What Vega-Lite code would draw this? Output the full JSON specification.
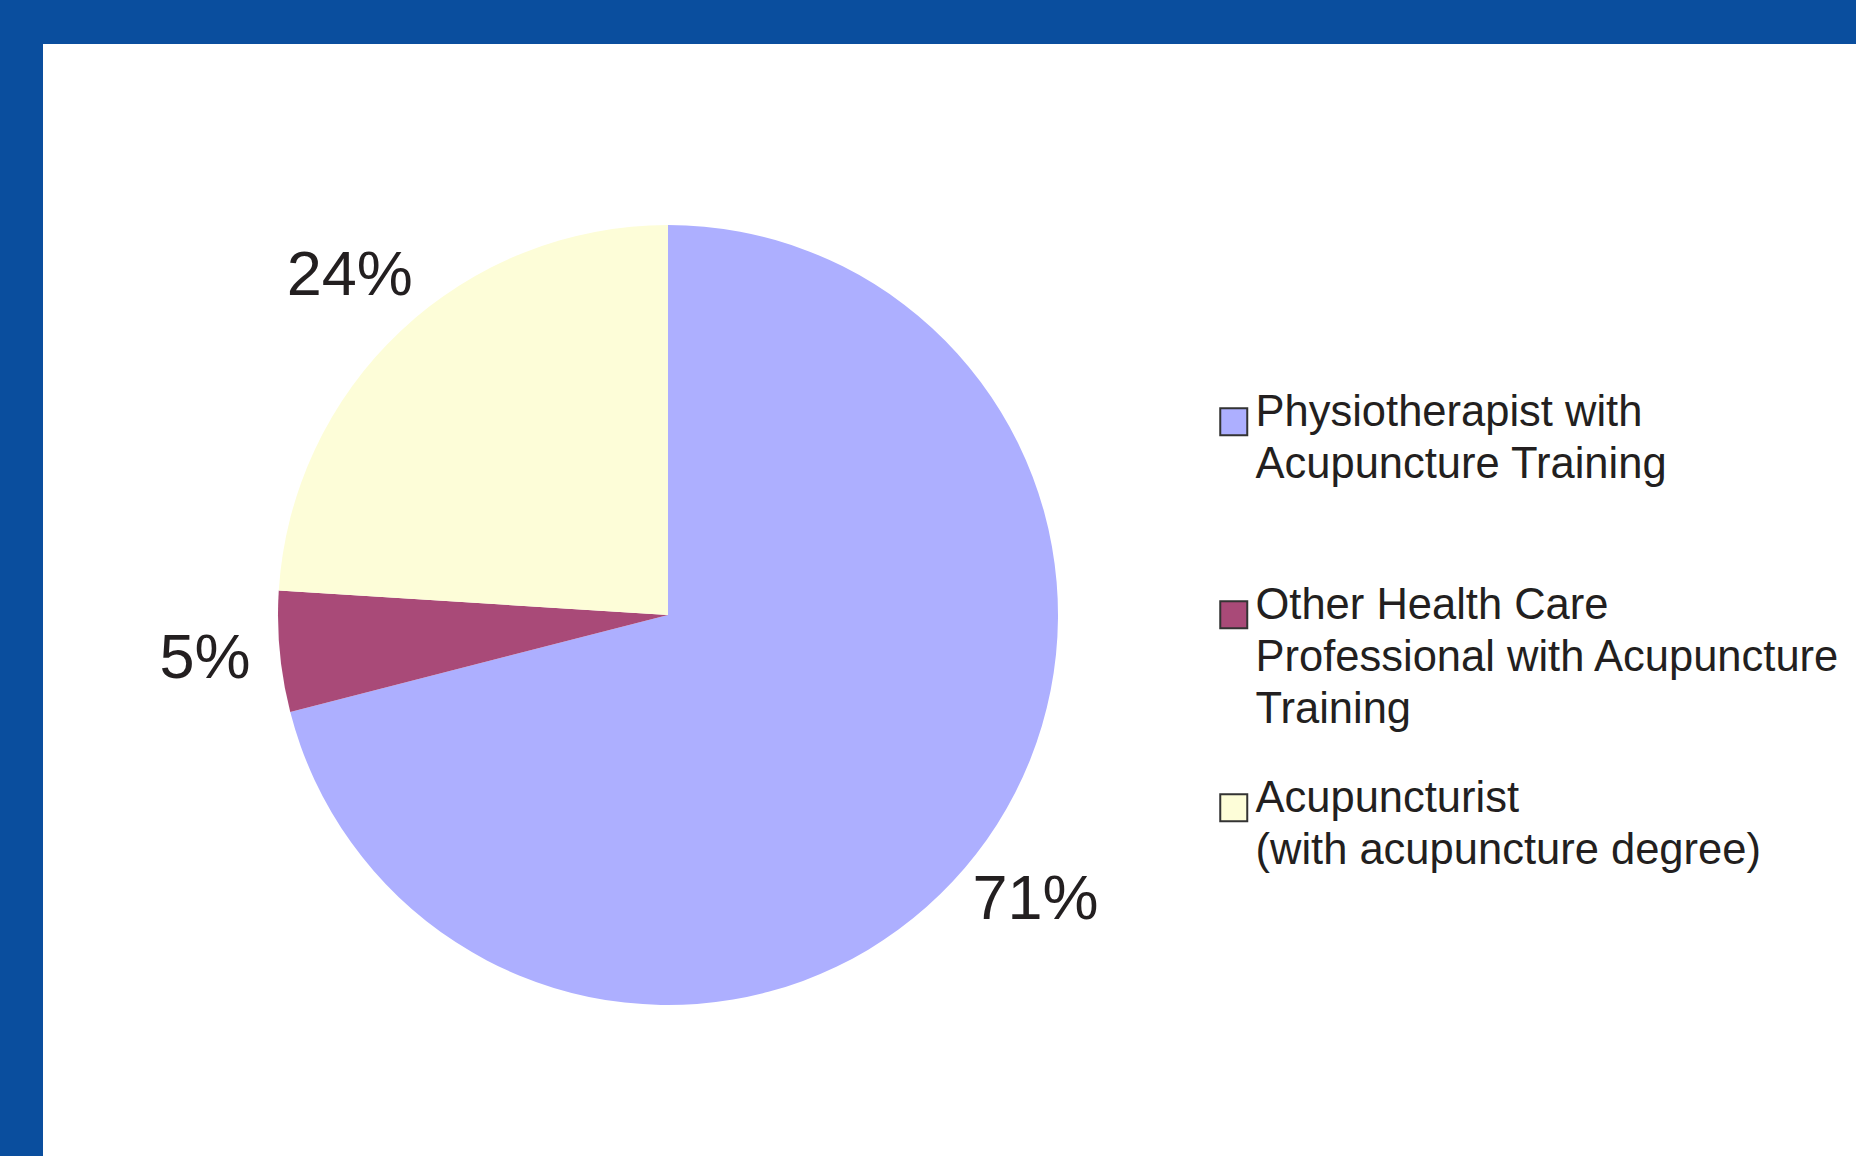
{
  "$schema": "https://vega.github.io/schema/vega-lite/v6.json",
  "background": "#0a4e9e",
  "padding": {"left": 43, "top": 44, "right": 0, "bottom": -30},
  "spacing": 0,
  "config": {"view": {"fill": "white", "stroke": null}},
  "hconcat": [
    {
      "width": 1250,
      "height": 1142,
      "view": {"fill": "white", "stroke": null},
      "data": {
        "values": [
          {"category": "Physiotherapist with Acupuncture Training", "share": 0.71},
          {"category": "Other Health Care Professional with Acupuncture Training", "share": 0.05},
          {"category": "Acupuncturist (with acupuncture degree)", "share": 0.24}
        ]
      },
      "encoding": {
        "theta": {"field": "share", "type": "quantitative", "stack": true},
        "order": {"field": "category", "sort": "descending"}
      },
      "layer": [
        {
          "mark": {"type": "arc", "radius": 390},
          "encoding": {
            "color": {
              "field": "category",
              "type": "nominal",
              "scale": {
                "domain": ["Physiotherapist with Acupuncture Training", "Other Health Care Professional with Acupuncture Training", "Acupuncturist (with acupuncture degree)"],
                "range": ["#adafff", "#a94a78", "#fdfdd8"]
              },
              "legend": {
                "orient": "none",
                "legendX": 1169,
                "legendY": 356,
                "title": null,
                "padding": 0,
                "symbolType": "square",
                "symbolSize": 729,
                "symbolStrokeColor": "#333333",
                "symbolStrokeWidth": 2,
                "labelFont": "Liberation Sans",
                "labelFontSize": 43.5,
                "labelColor": "#231f20",
                "labelLimit": 1000,
                "labelOffset": 0,
                "labelBaseline": "alphabetic",
                "gridAlign": "all",
                "rowPadding": 44,
                "encode": {"labels": {"update": {"lineHeight": {"value": 52}, "dy": {"value": 4}}}},
                "labelExpr": "datum.value == 'Physiotherapist with Acupuncture Training' ? ['Physiotherapist with', 'Acupuncture Training'] : datum.value == 'Acupuncturist (with acupuncture degree)' ? ['Acupuncturist', '(with acupuncture degree)'] : ['Other Health Care', 'Professional with Acupuncture', 'Training']"
              }
            }
          }
        },
        {
          "mark": {"type": "text", "radius": 465, "font": "Liberation Sans", "fontSize": 63, "color": "#231f20"},
          "encoding": {
            "text": {"field": "share", "type": "quantitative", "format": ".0%"}
          }
        }
      ]
    },
    {
      "width": 563,
      "height": 1142,
      "view": {"fill": "white", "stroke": null},
      "data": {"values": []},
      "mark": "point"
    }
  ]
}
